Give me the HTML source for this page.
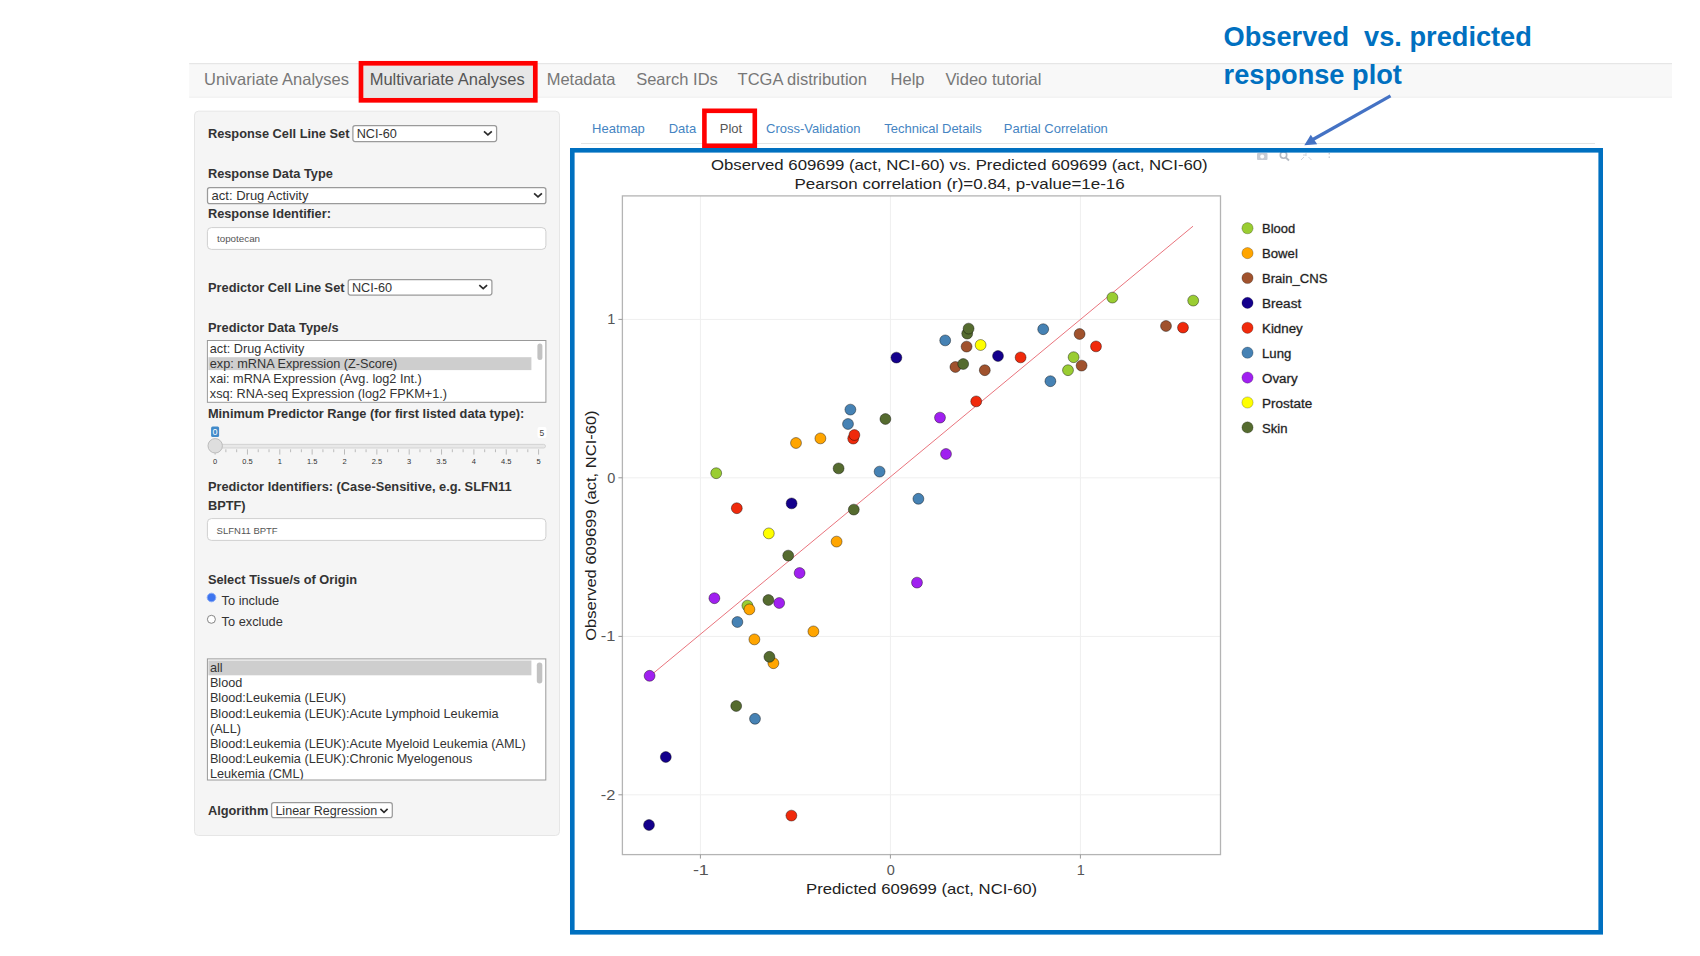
<!DOCTYPE html>
<html><head><meta charset="utf-8">
<style>
html,body{margin:0;padding:0;background:#fff;width:1700px;height:956px;overflow:hidden;}
svg{position:absolute;left:0;top:0;}
text{font-family:"Liberation Sans",sans-serif;}
.nav{font-size:16.5px;fill:#777;}
.tab{font-size:13px;fill:#4584c2;}
.lbl{font-size:12.8px;font-weight:bold;fill:#333;}
.sel{font-size:12.7px;fill:#333;}
.opt{font-size:12.7px;fill:#333;}
.grid{stroke:#efefef;stroke-width:1;}
.tick{stroke:#999;stroke-width:1;}
.tl{font-size:14.5px;fill:#555;}
.leg{font-size:12px;fill:#2b2b2b;}
.ptitle{font-size:14.3px;fill:#222;}
.stick{stroke:#bbb;stroke-width:1;}
.stl{font-size:7.5px;fill:#333;}
</style></head>
<body>
<svg width="1700" height="956" viewBox="0 0 1700 956">
<!-- navbar -->
<rect x="189.2" y="63.2" width="1482.8" height="34.4" fill="#f8f8f8"/>
<line x1="189.2" y1="63.7" x2="1672" y2="63.7" stroke="#e2e2e2" stroke-width="1"/>
<line x1="189.2" y1="97.2" x2="1672" y2="97.2" stroke="#efefef" stroke-width="1"/>
<rect x="363.5" y="66" width="170" height="31.6" fill="#e7e7e7"/>
<text x="204.1" y="85.3" class="nav">Univariate Analyses</text>
<text x="369.7" y="85.3" class="nav" style="fill:#555">Multivariate Analyses</text>
<text x="546.7" y="85.3" class="nav">Metadata</text>
<text x="636.2" y="85.3" class="nav">Search IDs</text>
<text x="737.6" y="85.3" class="nav">TCGA distribution</text>
<text x="890.6" y="85.3" class="nav">Help</text>
<text x="945.4" y="85.3" class="nav">Video tutorial</text>
<rect x="361" y="63.3" width="174.3" height="37" fill="none" stroke="#f00" stroke-width="4.7"/>

<!-- sidebar -->
<rect x="194.5" y="111.2" width="365" height="724.3" rx="4" fill="#f5f5f5" stroke="#e6e6e6" stroke-width="1"/>
<text x="207.9" y="138.1" class="lbl">Response Cell Line Set</text>
<rect x="352.9" y="125.5" width="143.7" height="16" rx="2.2" fill="#fff" stroke="#9a9a9a" stroke-width="1.25"/>
<text x="356.7" y="138.1" class="sel">NCI-60</text>
<path d="M484.0 131.3 L487.9 134.9 L491.8 131.3" fill="none" stroke="#2a2a2a" stroke-width="1.7"/>

<text x="207.9" y="178.1" class="lbl">Response Data Type</text>
<rect x="207.5" y="187.6" width="338.4" height="16" rx="2.2" fill="#fff" stroke="#9a9a9a" stroke-width="1.25"/>
<text x="211.6" y="200.1" class="sel" style="font-size:13px">act: Drug Activity</text>
<path d="M534.1 193.3 L538.0 196.9 L541.9 193.3" fill="none" stroke="#2a2a2a" stroke-width="1.7"/>
<text x="207.9" y="218" class="lbl">Response Identifier:</text>
<rect x="207.4" y="227.6" width="338.5" height="21.8" rx="4" fill="#fff" stroke="#cfcfcf" stroke-width="1"/>
<text x="217" y="241.6" style="font-size:9.8px;fill:#555">topotecan</text>

<text x="208" y="291.6" class="lbl">Predictor Cell Line Set</text>
<rect x="348.2" y="279.5" width="143.7" height="15.5" rx="2.2" fill="#fff" stroke="#9a9a9a" stroke-width="1.25"/>
<text x="351.9" y="291.6" class="sel">NCI-60</text>
<path d="M479.3 285.1 L483.2 288.7 L487.1 285.1" fill="none" stroke="#2a2a2a" stroke-width="1.7"/>

<text x="208" y="331.8" class="lbl">Predictor Data Type/s</text>
<rect x="207.4" y="340.5" width="338.5" height="61.8" fill="#fff" stroke="#999" stroke-width="1"/>
<rect x="208.4" y="357.2" width="323" height="12.9" fill="#cecece"/>
<rect x="537.4" y="343.5" width="5" height="16.5" rx="2.5" fill="#c2c2c2"/>
<text x="209.8" y="352.5" class="opt">act: Drug Activity</text>
<text x="209.8" y="367.8" class="opt">exp: mRNA Expression (Z-Score)</text>
<text x="209.8" y="382.5" class="opt">xai: mRNA Expression (Avg. log2 Int.)</text>
<text x="209.8" y="397.7" class="opt">xsq: RNA-seq Expression (log2 FPKM+1.)</text>

<text x="207.9" y="418" class="lbl">Minimum Predictor Range (for first listed data type):</text>
<rect x="211.1" y="426.6" width="8" height="10.3" rx="1.5" fill="#428bca"/>
<text x="215.1" y="435" text-anchor="middle" style="font-size:9px;fill:#fff">0</text>
<rect x="537.5" y="427" width="9" height="11" rx="2" fill="#fff"/>
<text x="541.8" y="436" text-anchor="middle" style="font-size:8.5px;fill:#444">5</text>
<rect x="208.5" y="444.4" width="337" height="3.6" rx="1.8" fill="#e8e8e8" stroke="#cdcdcd" stroke-width="0.8"/>
<line x1="215.10" y1="449.3" x2="215.10" y2="454.6" class="stick"/>
<text x="215.10" y="464" class="stl" text-anchor="middle">0</text>
<line x1="225.88" y1="449.3" x2="225.88" y2="452.2" class="stick"/>
<line x1="236.67" y1="449.3" x2="236.67" y2="452.2" class="stick"/>
<line x1="247.45" y1="449.3" x2="247.45" y2="454.6" class="stick"/>
<text x="247.45" y="464" class="stl" text-anchor="middle">0.5</text>
<line x1="258.23" y1="449.3" x2="258.23" y2="452.2" class="stick"/>
<line x1="269.02" y1="449.3" x2="269.02" y2="452.2" class="stick"/>
<line x1="279.80" y1="449.3" x2="279.80" y2="454.6" class="stick"/>
<text x="279.80" y="464" class="stl" text-anchor="middle">1</text>
<line x1="290.58" y1="449.3" x2="290.58" y2="452.2" class="stick"/>
<line x1="301.37" y1="449.3" x2="301.37" y2="452.2" class="stick"/>
<line x1="312.15" y1="449.3" x2="312.15" y2="454.6" class="stick"/>
<text x="312.15" y="464" class="stl" text-anchor="middle">1.5</text>
<line x1="322.93" y1="449.3" x2="322.93" y2="452.2" class="stick"/>
<line x1="333.72" y1="449.3" x2="333.72" y2="452.2" class="stick"/>
<line x1="344.50" y1="449.3" x2="344.50" y2="454.6" class="stick"/>
<text x="344.50" y="464" class="stl" text-anchor="middle">2</text>
<line x1="355.28" y1="449.3" x2="355.28" y2="452.2" class="stick"/>
<line x1="366.07" y1="449.3" x2="366.07" y2="452.2" class="stick"/>
<line x1="376.85" y1="449.3" x2="376.85" y2="454.6" class="stick"/>
<text x="376.85" y="464" class="stl" text-anchor="middle">2.5</text>
<line x1="387.63" y1="449.3" x2="387.63" y2="452.2" class="stick"/>
<line x1="398.42" y1="449.3" x2="398.42" y2="452.2" class="stick"/>
<line x1="409.20" y1="449.3" x2="409.20" y2="454.6" class="stick"/>
<text x="409.20" y="464" class="stl" text-anchor="middle">3</text>
<line x1="419.98" y1="449.3" x2="419.98" y2="452.2" class="stick"/>
<line x1="430.77" y1="449.3" x2="430.77" y2="452.2" class="stick"/>
<line x1="441.55" y1="449.3" x2="441.55" y2="454.6" class="stick"/>
<text x="441.55" y="464" class="stl" text-anchor="middle">3.5</text>
<line x1="452.33" y1="449.3" x2="452.33" y2="452.2" class="stick"/>
<line x1="463.12" y1="449.3" x2="463.12" y2="452.2" class="stick"/>
<line x1="473.90" y1="449.3" x2="473.90" y2="454.6" class="stick"/>
<text x="473.90" y="464" class="stl" text-anchor="middle">4</text>
<line x1="484.68" y1="449.3" x2="484.68" y2="452.2" class="stick"/>
<line x1="495.47" y1="449.3" x2="495.47" y2="452.2" class="stick"/>
<line x1="506.25" y1="449.3" x2="506.25" y2="454.6" class="stick"/>
<text x="506.25" y="464" class="stl" text-anchor="middle">4.5</text>
<line x1="517.03" y1="449.3" x2="517.03" y2="452.2" class="stick"/>
<line x1="527.82" y1="449.3" x2="527.82" y2="452.2" class="stick"/>
<line x1="538.60" y1="449.3" x2="538.60" y2="454.6" class="stick"/>
<text x="538.60" y="464" class="stl" text-anchor="middle">5</text>
<circle cx="215.2" cy="445.8" r="7.2" fill="#dedede" stroke="#bcbcbc" stroke-width="1"/>

<text x="207.9" y="491.2" class="lbl">Predictor Identifiers: (Case-Sensitive, e.g. SLFN11</text>
<text x="207.9" y="509.5" class="lbl">BPTF)</text>
<rect x="207.4" y="518.6" width="338.5" height="21.8" rx="4" fill="#fff" stroke="#cfcfcf" stroke-width="1"/>
<text x="216.6" y="533.7" style="font-size:9.5px;fill:#555">SLFN11 BPTF</text>

<text x="207.9" y="583.5" class="lbl">Select Tissue/s of Origin</text>
<circle cx="211.5" cy="597.5" r="4.3" fill="#3d74ef" stroke="#86a9f6" stroke-width="1"/>
<circle cx="211.4" cy="619.3" r="4" fill="#fff" stroke="#777" stroke-width="0.9"/>
<text x="221.6" y="604.5" style="font-size:12.8px;fill:#333">To include</text>
<text x="221.6" y="625.5" style="font-size:12.8px;fill:#333">To exclude</text>

<rect x="207.4" y="658.9" width="338.4" height="121.1" fill="#fff" stroke="#999" stroke-width="1"/>
<rect x="208.4" y="660.5" width="323" height="14.8" fill="#cecece"/>
<rect x="536.8" y="662.5" width="5.5" height="21" rx="2.7" fill="#c2c2c2"/>
<svg x="207.9" y="659.4" width="337.4" height="120.1" style="position:static">
<text x="2" y="12.2" class="opt" fill="#111">all</text>
<text x="2" y="27.7" class="opt">Blood</text>
<text x="2" y="43.1" class="opt">Blood:Leukemia (LEUK)</text>
<text x="2" y="58.5" class="opt">Blood:Leukemia (LEUK):Acute Lymphoid Leukemia</text>
<text x="2" y="73.4" class="opt">(ALL)</text>
<text x="2" y="88.4" class="opt">Blood:Leukemia (LEUK):Acute Myeloid Leukemia (AML)</text>
<text x="2" y="103.3" class="opt">Blood:Leukemia (LEUK):Chronic Myelogenous</text>
<text x="2" y="118.3" class="opt">Leukemia (CML)</text>
</svg>

<text x="207.9" y="815" class="lbl">Algorithm</text>
<rect x="271.6" y="802.7" width="120.7" height="14.9" rx="2.2" fill="#fff" stroke="#9a9a9a" stroke-width="1.25"/>
<text x="275.4" y="814.6" class="sel" style="font-size:12.55px">Linear Regression</text>
<path d="M380.4 808.9 L384 812.4 L387.6 808.9" fill="none" stroke="#2a2a2a" stroke-width="1.6"/>

<!-- sub tabs -->
<line x1="581" y1="143.5" x2="1595" y2="143.5" stroke="#e3e3e3" stroke-width="1.2"/>
<text x="592.1" y="133" class="tab">Heatmap</text>
<text x="668.7" y="133" class="tab">Data</text>
<text x="719.8" y="133" class="tab" style="fill:#555">Plot</text>
<text x="766" y="133" class="tab">Cross-Validation</text>
<text x="884.2" y="133" class="tab">Technical Details</text>
<text x="1003.8" y="133" class="tab">Partial Correlation</text>
<rect x="704.4" y="110.8" width="50.4" height="35" fill="none" stroke="#f00" stroke-width="4.6"/>

<!-- plot -->
<line x1="700.4" y1="195.9" x2="700.4" y2="854.6" class="grid"/>
<line x1="890.4" y1="195.9" x2="890.4" y2="854.6" class="grid"/>
<line x1="1080.4" y1="195.9" x2="1080.4" y2="854.6" class="grid"/>
<line x1="622.4" y1="319.4" x2="1220.5" y2="319.4" class="grid"/>
<line x1="622.4" y1="477.8" x2="1220.5" y2="477.8" class="grid"/>
<line x1="622.4" y1="636.4" x2="1220.5" y2="636.4" class="grid"/>
<line x1="622.4" y1="794.8" x2="1220.5" y2="794.8" class="grid"/>
<rect x="622.4" y="195.9" width="598.1" height="658.7" fill="none" stroke="#b4b4b4" stroke-width="1.3"/>
<line x1="700.4" y1="854.6" x2="700.4" y2="858.6" class="tick"/>
<text x="700.9" y="875" class="tl" text-anchor="middle" textLength="16" lengthAdjust="spacingAndGlyphs">-1</text>
<line x1="890.4" y1="854.6" x2="890.4" y2="858.6" class="tick"/>
<text x="890.9" y="875" class="tl" text-anchor="middle">0</text>
<line x1="1080.4" y1="854.6" x2="1080.4" y2="858.6" class="tick"/>
<text x="1080.9" y="875" class="tl" text-anchor="middle">1</text>
<line x1="618.4" y1="319.4" x2="622.4" y2="319.4" class="tick"/>
<text x="615.3" y="324.4" class="tl" text-anchor="end">1</text>
<line x1="618.4" y1="477.8" x2="622.4" y2="477.8" class="tick"/>
<text x="615.3" y="482.8" class="tl" text-anchor="end">0</text>
<line x1="618.4" y1="636.4" x2="622.4" y2="636.4" class="tick"/>
<text x="615.3" y="641.4" class="tl" text-anchor="end" textLength="14.6" lengthAdjust="spacingAndGlyphs">-1</text>
<line x1="618.4" y1="794.8" x2="622.4" y2="794.8" class="tick"/>
<text x="615.3" y="799.8" class="tl" text-anchor="end" textLength="14.6" lengthAdjust="spacingAndGlyphs">-2</text>
<line x1="650" y1="676" x2="1193" y2="226.2" stroke="#e9747d" stroke-width="1"/>
<g stroke="rgba(0,0,0,0.45)" stroke-width="0.9">
<circle cx="1112.4" cy="297.6" r="5.45" fill="#9acd32"/>
<circle cx="1193.2" cy="300.6" r="5.45" fill="#9acd32"/>
<circle cx="1166" cy="326" r="5.45" fill="#a0522d"/>
<circle cx="1183" cy="327.6" r="5.45" fill="#f02a0c"/>
<circle cx="1043.2" cy="329.2" r="5.45" fill="#4682b4"/>
<circle cx="1079.6" cy="334" r="5.45" fill="#a0522d"/>
<circle cx="1096" cy="346.4" r="5.45" fill="#f02a0c"/>
<circle cx="1073.6" cy="357.2" r="5.45" fill="#9acd32"/>
<circle cx="1081.6" cy="365.6" r="5.45" fill="#a0522d"/>
<circle cx="1068" cy="370.2" r="5.45" fill="#9acd32"/>
<circle cx="1050.4" cy="381.2" r="5.45" fill="#4682b4"/>
<circle cx="967.2" cy="333.6" r="5.45" fill="#556b2f"/>
<circle cx="968.6" cy="328.6" r="5.45" fill="#556b2f"/>
<circle cx="945.2" cy="340.4" r="5.45" fill="#4682b4"/>
<circle cx="966.6" cy="346.6" r="5.45" fill="#a0522d"/>
<circle cx="980.6" cy="345" r="5.45" fill="#ffff00"/>
<circle cx="998" cy="356" r="5.45" fill="#14008c"/>
<circle cx="1020.6" cy="357.4" r="5.45" fill="#f02a0c"/>
<circle cx="896.4" cy="357.6" r="5.45" fill="#14008c"/>
<circle cx="955.4" cy="367" r="5.45" fill="#a0522d"/>
<circle cx="963.2" cy="364" r="5.45" fill="#556b2f"/>
<circle cx="984.8" cy="370.2" r="5.45" fill="#a0522d"/>
<circle cx="976.2" cy="401.4" r="5.45" fill="#f02a0c"/>
<circle cx="885.4" cy="419" r="5.45" fill="#556b2f"/>
<circle cx="940" cy="417.6" r="5.45" fill="#a020f0"/>
<circle cx="946" cy="454" r="5.45" fill="#a020f0"/>
<circle cx="850.4" cy="409.6" r="5.45" fill="#4682b4"/>
<circle cx="848" cy="424" r="5.45" fill="#4682b4"/>
<circle cx="853.2" cy="438.6" r="5.45" fill="#f02a0c"/>
<circle cx="854.4" cy="435" r="5.45" fill="#f02a0c"/>
<circle cx="820.4" cy="438.4" r="5.45" fill="#ffa500"/>
<circle cx="796" cy="443" r="5.45" fill="#ffa500"/>
<circle cx="838.6" cy="468.4" r="5.45" fill="#556b2f"/>
<circle cx="879.6" cy="471.6" r="5.45" fill="#4682b4"/>
<circle cx="716.2" cy="473.2" r="5.45" fill="#9acd32"/>
<circle cx="918.4" cy="498.8" r="5.45" fill="#4682b4"/>
<circle cx="791.6" cy="503.4" r="5.45" fill="#14008c"/>
<circle cx="736.8" cy="508.2" r="5.45" fill="#f02a0c"/>
<circle cx="853.8" cy="509.6" r="5.45" fill="#556b2f"/>
<circle cx="768.8" cy="533.4" r="5.45" fill="#ffff00"/>
<circle cx="836.6" cy="541.6" r="5.45" fill="#ffa500"/>
<circle cx="788.2" cy="555.6" r="5.45" fill="#556b2f"/>
<circle cx="799.6" cy="573" r="5.45" fill="#a020f0"/>
<circle cx="917" cy="582.6" r="5.45" fill="#a020f0"/>
<circle cx="714.4" cy="598.2" r="5.45" fill="#a020f0"/>
<circle cx="768.4" cy="600" r="5.45" fill="#556b2f"/>
<circle cx="779.2" cy="603" r="5.45" fill="#a020f0"/>
<circle cx="747.4" cy="605.6" r="5.45" fill="#9acd32"/>
<circle cx="749.4" cy="609.4" r="5.45" fill="#ffa500"/>
<circle cx="737.4" cy="622" r="5.45" fill="#4682b4"/>
<circle cx="813.4" cy="631.4" r="5.45" fill="#ffa500"/>
<circle cx="754.4" cy="639.4" r="5.45" fill="#ffa500"/>
<circle cx="773.4" cy="663.2" r="5.45" fill="#ffa500"/>
<circle cx="769.4" cy="656.8" r="5.45" fill="#556b2f"/>
<circle cx="649.6" cy="675.8" r="5.45" fill="#a020f0"/>
<circle cx="736.2" cy="706" r="5.45" fill="#556b2f"/>
<circle cx="755" cy="718.8" r="5.45" fill="#4682b4"/>
<circle cx="665.8" cy="757" r="5.45" fill="#14008c"/>
<circle cx="649" cy="825" r="5.45" fill="#14008c"/>
<circle cx="791.4" cy="815.6" r="5.45" fill="#f02a0c"/>
</g>
<g stroke="rgba(0,0,0,0.3)" stroke-width="0.8">
<circle cx="1247.5" cy="228.2" r="5.6" fill="#9acd32"/>
<text x="1262" y="233.3" class="leg" textLength="33.2" lengthAdjust="spacingAndGlyphs">Blood</text>
<circle cx="1247.5" cy="253.1" r="5.6" fill="#ffa500"/>
<text x="1262" y="258.2" class="leg" textLength="35.8" lengthAdjust="spacingAndGlyphs">Bowel</text>
<circle cx="1247.5" cy="278.0" r="5.6" fill="#a0522d"/>
<text x="1262" y="283.1" class="leg" textLength="65.5" lengthAdjust="spacingAndGlyphs">Brain_CNS</text>
<circle cx="1247.5" cy="302.9" r="5.6" fill="#14008c"/>
<text x="1262" y="308.0" class="leg" textLength="39.2" lengthAdjust="spacingAndGlyphs">Breast</text>
<circle cx="1247.5" cy="327.8" r="5.6" fill="#f02a0c"/>
<text x="1262" y="332.9" class="leg" textLength="40.7" lengthAdjust="spacingAndGlyphs">Kidney</text>
<circle cx="1247.5" cy="352.7" r="5.6" fill="#4682b4"/>
<text x="1262" y="357.8" class="leg" textLength="29.3" lengthAdjust="spacingAndGlyphs">Lung</text>
<circle cx="1247.5" cy="377.6" r="5.6" fill="#a020f0"/>
<text x="1262" y="382.7" class="leg" textLength="35.6" lengthAdjust="spacingAndGlyphs">Ovary</text>
<circle cx="1247.5" cy="402.5" r="5.6" fill="#ffff00"/>
<text x="1262" y="407.6" class="leg" textLength="50.2" lengthAdjust="spacingAndGlyphs">Prostate</text>
<circle cx="1247.5" cy="427.4" r="5.6" fill="#556b2f"/>
<text x="1262" y="432.5" class="leg" textLength="25.5" lengthAdjust="spacingAndGlyphs">Skin</text>
</g>
<text x="711" y="169.9" class="ptitle" textLength="496.7" lengthAdjust="spacingAndGlyphs">Observed 609699 (act, NCI-60) vs. Predicted 609699 (act, NCI-60)</text>
<text x="794.5" y="189" class="ptitle" textLength="330.2" lengthAdjust="spacingAndGlyphs">Pearson correlation (r)=0.84, p-value=1e-16</text>
<text x="806.1" y="894.4" class="ptitle" textLength="230.9" lengthAdjust="spacingAndGlyphs">Predicted 609699 (act, NCI-60)</text>
<text x="0" y="0" class="ptitle" textLength="230.4" lengthAdjust="spacingAndGlyphs" transform="translate(595.7 640.8) rotate(-90)">Observed 609699 (act, NCI-60)</text>

<!-- modebar -->
<g fill="#c8ccd4">
<rect x="1257" y="153" width="10.5" height="7" rx="1"/>
<circle cx="1262.2" cy="156.5" r="2" fill="#fff"/>
<circle cx="1283.5" cy="155" r="3.2" fill="none" stroke="#b5b9c2" stroke-width="1.6"/>
<line x1="1285.8" y1="157.5" x2="1289" y2="160.5" stroke="#b5b9c2" stroke-width="1.8"/>
<path d="M1301 160 l3 -3 M1311.5 160 l-3 -3 M1303 155 l3 0 M1306 153 l0 3" stroke="#d0d4dc" stroke-width="1" fill="none"/>
<rect x="1328.6" y="153" width="1.4" height="1.4"/>
<rect x="1328.6" y="156.5" width="1.4" height="1.4"/>
</g>

<!-- blue box -->
<rect x="572.3" y="150.3" width="1028.4" height="782" fill="none" stroke="#0070c0" stroke-width="4.6"/>

<!-- annotation -->
<text x="1223.6" y="46" style="font-size:27.2px;font-weight:bold;fill:#0070c0">Observed&#160; vs. predicted</text>
<text x="1223.6" y="83.6" style="font-size:27.2px;font-weight:bold;fill:#0070c0">response plot</text>
<line x1="1390.5" y1="95.8" x2="1312" y2="140" stroke="#4472c4" stroke-width="3.2"/>
<path d="M1304.3 145.3 L1310.8 134.8 L1317.2 144.2 Z" fill="#4472c4"/>
</svg>
</body></html>
